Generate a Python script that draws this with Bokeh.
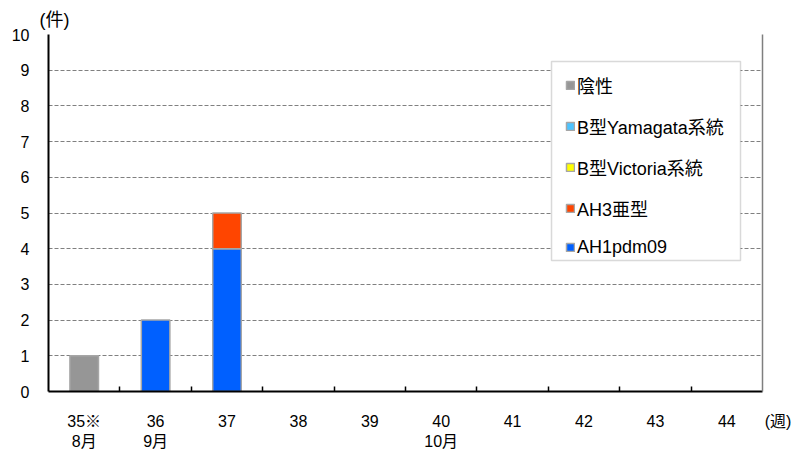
from bokeh.plotting import figure
from bokeh.models import (FixedTicker, LinearAxis, Legend, LegendItem, Range1d, BoxAnnotation,
                          ColumnDataSource)
from bokeh.embed import file_html
from bokeh.resources import INLINE

weeks = ["35※", "36", "37", "38", "39", "40", "41", "42", "43", "44"]
months = ["8月", "9月", "", "", "", "10月", "", "", "", ""]
ah1pdm09 = [0, 2, 4, 0, 0, 0, 0, 0, 0, 0]
ah3 = [0, 0, 1, 0, 0, 0, 0, 0, 0, 0]
victoria = [0, 0, 0, 0, 0, 0, 0, 0, 0, 0]
yamagata = [0, 0, 0, 0, 0, 0, 0, 0, 0, 0]
negative = [1, 0, 0, 0, 0, 0, 0, 0, 0, 0]
y_ticks = [0, 1, 2, 3, 4, 5, 6, 7, 8, 9, 10]
y_unit = "(件)"
x_unit = "(週)"

series_names = ["AH1pdm09", "AH3亜型", "B型Victoria系統", "B型Yamagata系統", "陰性"]
series_vals = [ah1pdm09, ah3, victoria, yamagata, negative]
colors = ["#0060FF", "#FF4500", "#FFFF00", "#4DC3FF", "#969696"]

FONT = "Liberation Sans, Arial, Noto Sans CJK JP"
NAN = float("nan")

n = len(weeks)
x = [i + 0.5 for i in range(n)]

p = figure(width=792, height=452, output_backend="svg", toolbar_location=None,
           x_range=Range1d(0, n), y_range=Range1d(0, 10),
           min_border_left=48, min_border_right=30, min_border_top=34, min_border_bottom=61)
p.outline_line_color = None
p.background_fill_color = "white"

# y-unit as title
p.title.text = y_unit
p.title.align = "left"
p.title.offset = -9
p.title.standoff = 10
p.title.text_font = FONT
p.title.text_font_size = "18px"
p.title.text_font_style = "normal"
p.title.text_color = "black"

# stacked bars (zero-height segments not drawn)
renderers = []
base = [0] * n
for name, vals, col in zip(series_names, series_vals, colors):
    bots, tops = [], []
    for i in range(n):
        if vals[i] > 0:
            bots.append(base[i])
            tops.append(base[i] + vals[i])
        else:
            bots.append(NAN)
            tops.append(NAN)
        base[i] += vals[i]
    src = ColumnDataSource(dict(x=x, bottom=bots, top=tops))
    r = p.vbar(x="x", bottom="bottom", top="top", width=0.4, source=src,
               fill_color=col, line_color="#A6A6A6", line_width=1.5)
    renderers.append(r)

# x axis
xa = p.xaxis[0]
xa.ticker = FixedTicker(ticks=x + [float(n)], minor_ticks=[float(i) for i in range(1, n)])
labels = {}
for xi, w, m in zip(x, weeks, months):
    labels[xi] = w + ("\n" + m if m else "")
labels[float(n)] = "\u00a0" * 7 + x_unit
xa.major_label_overrides = labels
xa.major_tick_line_color = None
xa.major_tick_out = 0
xa.major_tick_in = 0
xa.minor_tick_in = 5
xa.minor_tick_out = 0
xa.minor_tick_line_color = "black"
xa.minor_tick_line_width = 1.5
xa.axis_line_color = "black"
xa.axis_line_width = 2
xa.major_label_standoff = 21
xa.major_label_text_font = FONT
xa.major_label_text_font_size = "16px"
xa.major_label_text_color = "black"

# y axis
ya = p.yaxis[0]
ya.ticker = FixedTicker(ticks=y_ticks)
ya.major_tick_line_color = None
ya.major_tick_out = 0
ya.major_tick_in = 0
ya.minor_tick_line_color = None
ya.axis_line_color = "black"
ya.axis_line_width = 2
ya.major_label_standoff = 19
ya.major_label_text_font = FONT
ya.major_label_text_font_size = "16px"
ya.major_label_text_color = "black"

# right border
ra = LinearAxis(ticker=FixedTicker(ticks=[]), axis_line_color="#7F7F7F", axis_line_width=1.5,
                major_tick_line_color=None, minor_tick_line_color=None,
                major_tick_out=0, major_tick_in=0, major_label_standoff=0,
                major_label_text_font_size="0px")
p.add_layout(ra, "right")

p.xgrid.grid_line_color = None
p.ygrid.ticker = FixedTicker(ticks=y_ticks[1:])
p.ygrid.grid_line_color = "#808080"
p.ygrid.grid_line_dash = "4 2"
p.ygrid.grid_line_width = 1.2

# legend frame
p.add_layout(BoxAnnotation(left=7.045, right=9.692, bottom=3.67, top=9.244,
                           fill_color="white", fill_alpha=1.0,
                           line_color="#808080", line_width=1.5))

items = [LegendItem(label=nm, renderers=[r], index=0) for nm, r in zip(series_names, renderers)]
items = items[::-1]
legend = Legend(items=items, location=(517, 133), orientation="vertical",
                glyph_width=10, glyph_height=10, label_height=22, spacing=15, padding=0,
                label_text_font=FONT, label_text_font_size="18px", label_standoff=2,
                label_text_color="black",
                border_line_color=None, background_fill_alpha=0.0, margin=0)
p.add_layout(legend, "center")

open("out.html", "w").write(file_html(p, INLINE))
